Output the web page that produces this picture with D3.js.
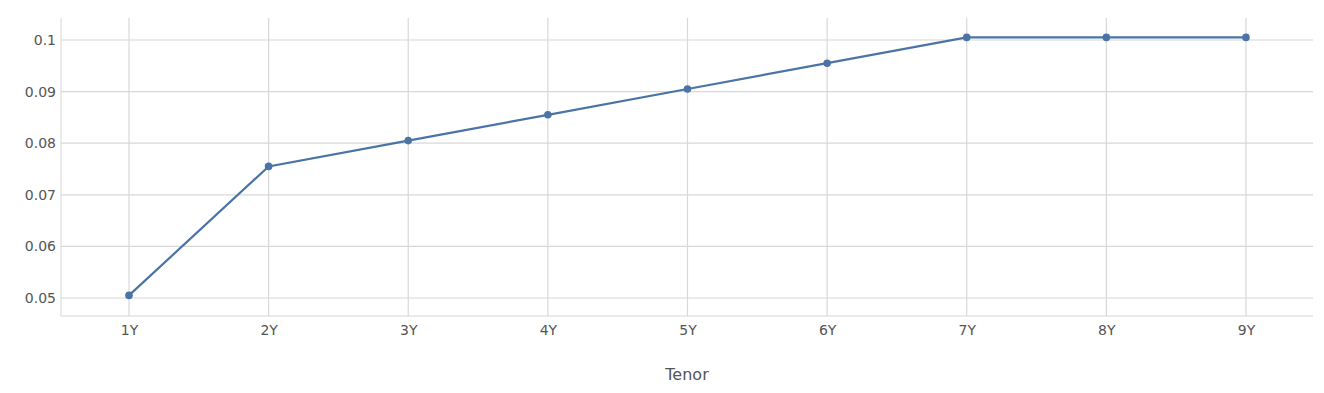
<!DOCTYPE html>
<html>
<head>
<meta charset="utf-8">
<script src="https://cdn.jsdelivr.net/npm/d3@7"></script>
<style>
  body { margin: 0; background: #fff; }
  svg text { font-family: "DejaVu Sans", Verdana, sans-serif; fill: #555; }
</style>
</head>
<body>
<svg id="chart"></svg>
<script>
var tenors = ["1Y","2Y","3Y","4Y","5Y","6Y","7Y","8Y","9Y"];
var rates = [0.0505, 0.0755, 0.0805, 0.0855, 0.0905, 0.0955, 0.1005, 0.1005, 0.1005];
var yTicks = [0.05, 0.06, 0.07, 0.08, 0.09, 0.1];

var width = 1324, height = 393;
var margin = {top: 18, right: 11, bottom: 77, left: 61};

var svg = d3.select("#chart")
  .attr("width", width)
  .attr("height", height);

var x = d3.scaleLinear()
  .domain([-0.487, tenors.length - 1 + 0.48])
  .range([margin.left, width - margin.right]);

var y = d3.scaleLinear()
  .domain([0.04651, 0.10426])
  .range([height - margin.bottom, margin.top]);

var grid = svg.append("g");
grid.selectAll(".hgrid")
  .data(yTicks)
  .enter().append("line")
  .attr("x1", margin.left).attr("x2", width - margin.right)
  .attr("y1", function(d){ return y(d); })
  .attr("y2", function(d){ return y(d); })
  .attr("stroke", "#d8d8d8").attr("stroke-width", 1.2);

grid.selectAll(".vgrid")
  .data(tenors)
  .enter().append("line")
  .attr("x1", function(d,i){ return x(i); })
  .attr("x2", function(d,i){ return x(i); })
  .attr("y1", margin.top).attr("y2", height - margin.bottom)
  .attr("stroke", "#d8d8d8").attr("stroke-width", 1.2);

// axis lines
svg.append("line")
  .attr("x1", margin.left).attr("x2", margin.left)
  .attr("y1", margin.top).attr("y2", height - margin.bottom)
  .attr("stroke", "#d6d6d6");
svg.append("line")
  .attr("x1", margin.left).attr("x2", width - margin.right)
  .attr("y1", height - margin.bottom).attr("y2", height - margin.bottom)
  .attr("stroke", "#d6d6d6");

var yAxis = d3.axisLeft(y).tickValues(yTicks).tickSize(0).tickPadding(5)
  .tickFormat(function(d){ return String(+d.toFixed(2)); });
var gy = svg.append("g")
  .attr("transform", "translate(" + margin.left + ",0)")
  .call(yAxis);
gy.select(".domain").remove();
gy.selectAll("text").style("font-size", "14px").style("fill", "#555");

var xAxis = d3.axisBottom(x).tickValues(d3.range(tenors.length)).tickSize(0).tickPadding(9)
  .tickFormat(function(i){ return tenors[i]; });
var gx = svg.append("g")
  .attr("transform", "translate(0," + (height - margin.bottom) + ")")
  .call(xAxis);
gx.select(".domain").remove();
gx.selectAll("text").style("font-size", "14px").style("fill", "#555");

svg.append("text")
  .attr("x", (margin.left + width - margin.right) / 2)
  .attr("y", 380)
  .attr("text-anchor", "middle")
  .style("font-size", "16px")
  .text("Tenor");

var line = d3.line()
  .x(function(d,i){ return x(i); })
  .y(function(d){ return y(d); });

svg.append("path")
  .datum(rates)
  .attr("fill", "none")
  .attr("stroke", "#4a74a6")
  .attr("stroke-width", 2.2)
  .attr("d", line);

svg.selectAll(".dot")
  .data(rates)
  .enter().append("circle")
  .attr("cx", function(d,i){ return x(i); })
  .attr("cy", function(d){ return y(d); })
  .attr("r", 3.8)
  .attr("fill", "#4a74a6");
</script>
</body>
</html>
